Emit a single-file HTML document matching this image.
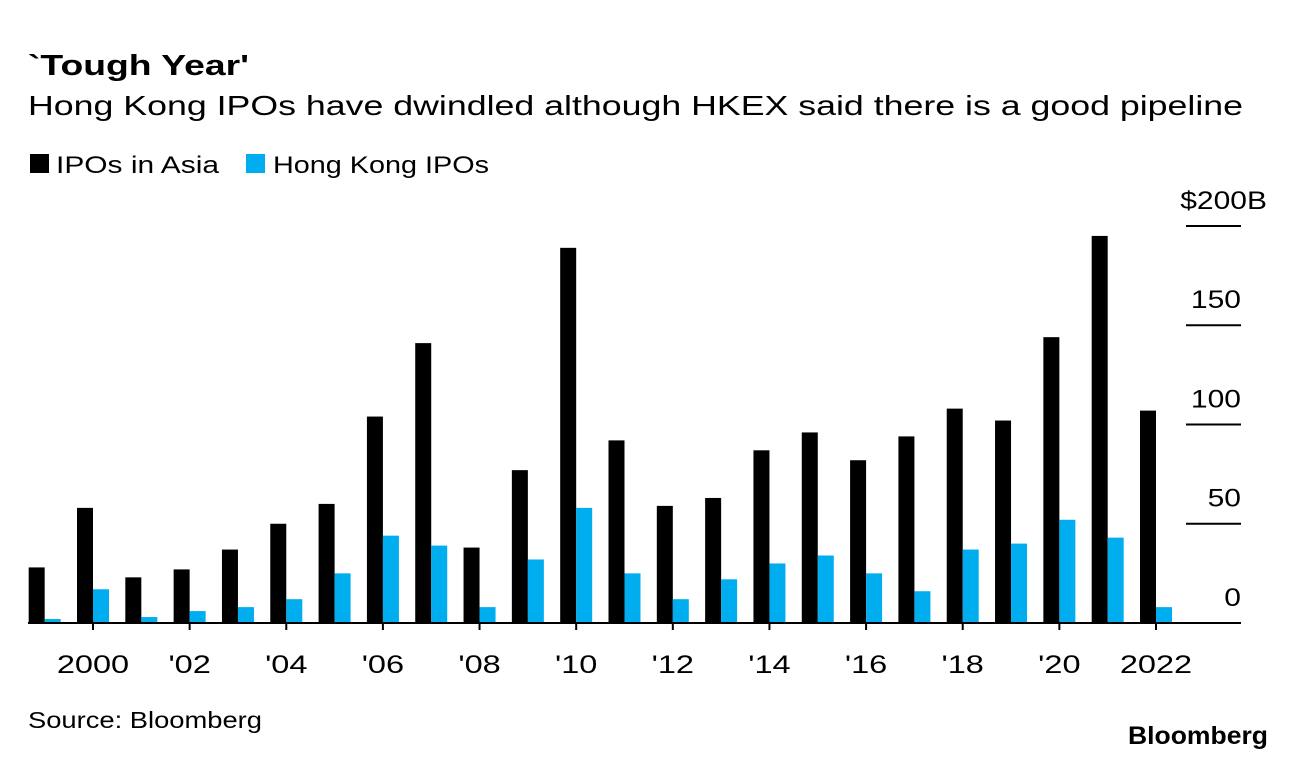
<!DOCTYPE html>
<html><head><meta charset="utf-8"><style>
body{margin:0;background:#fff;}
svg{display:block;font-family:"Liberation Sans",Arial,sans-serif;}
</style></head><body>
<svg width="1296" height="760">
<text x="28" y="75" font-size="29" font-weight="bold" fill="#000" textLength="221" lengthAdjust="spacingAndGlyphs">`Tough Year'</text>
<text x="28" y="115" font-size="28" fill="#000" textLength="1215" lengthAdjust="spacingAndGlyphs">Hong Kong IPOs have dwindled although HKEX said there is a good pipeline</text>
<g>
<rect x="30" y="154" width="19" height="19" fill="#000"/>
<text x="56" y="173" font-size="24" textLength="163" lengthAdjust="spacingAndGlyphs">IPOs in Asia</text>
<rect x="246" y="154" width="19" height="19" fill="#00adef"/>
<text x="273" y="173" font-size="24" textLength="216" lengthAdjust="spacingAndGlyphs">Hong Kong IPOs</text>
</g>
<g id="plot"></g>
<text x="28" y="728" font-size="23" textLength="234" lengthAdjust="spacingAndGlyphs">Source: Bloomberg</text>
<text x="1128" y="744" font-size="25" font-weight="bold" textLength="140" lengthAdjust="spacingAndGlyphs">Bloomberg</text>
</svg>
<script>
const years=[1999,2000,2001,2002,2003,2004,2005,2006,2007,2008,2009,2010,2011,2012,2013,2014,2015,2016,2017,2018,2019,2020,2021,2022];
const asia=[28,58,23,27,37,50,60,104,141,38,77,189,92,59,63,87,96,82,94,108,102,144,195,107];
const hk=[2,17,3,6,8,12,25,44,39,8,32,58,25,12,22,30,34,25,16,37,40,52,43,8];
const yTicks=[0,50,100,150,200];
const xLabels=["2000","'02","'04","'06","'08","'10","'12","'14","'16","'18","'20","2022"];
const NS="http://www.w3.org/2000/svg";
const g=document.getElementById('plot');
const y=v=>623-v*(397/200);
const x=yr=>93+(yr-2000)*(1063/22);
function el(t,a){const e=document.createElementNS(NS,t);for(const k in a)e.setAttribute(k,a[k]);g.appendChild(e);return e;}
yTicks.forEach(v=>{
 if(v>0){const l=el('rect',{x:1186,y:y(v)-1,width:55,height:2,fill:'#000'});
 
 }
 const t=el('text',{x:v===200?1267:1241,y:y(v)-17,'font-size':25,'text-anchor':'end','transform':'scale(1.2,1)','transform-origin':(v===200?1267:1241)+'px 0px'});
 t.textContent=v===200?'$200B':String(v);
 
 
});
years.forEach((yr,i)=>{
 const b=el('rect',{x:x(yr)-16,y:y(asia[i]),width:16,height:623-y(asia[i]),fill:'#000'});
 
 
 const h=el('rect',{x:x(yr),y:y(hk[i]),width:16,height:623-y(hk[i]),fill:'#00adef'});
 
 
});
const base=el('rect',{x:28,y:622,width:1213,height:2,fill:'#000'});


xLabels.forEach((lab,i)=>{
 const yr=2000+i*2;
 const tk=el('rect',{x:x(yr)-1,y:623,width:2,height:7,fill:'#000'});
 
 
 const t=el('text',{x:x(yr),y:673,'font-size':25,'text-anchor':'middle','transform':'scale(1.3,1)','transform-origin':x(yr)+'px 0px'});
 t.textContent=lab;
 
 
});
</script>
</body></html>
